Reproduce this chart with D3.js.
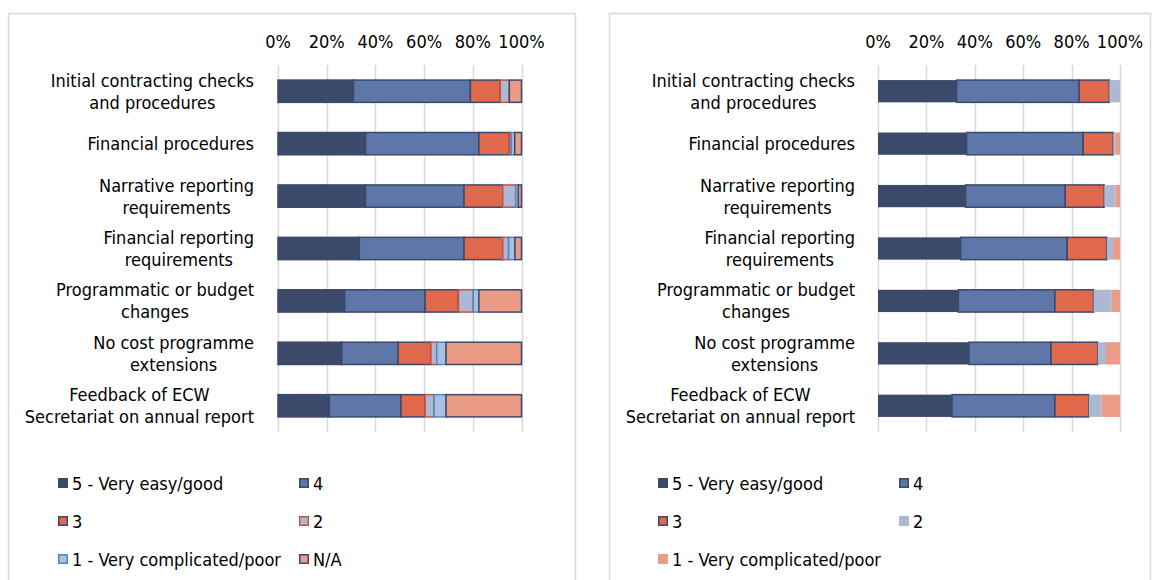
<!DOCTYPE html>
<html><head><meta charset="utf-8">
<script src="https://cdn.jsdelivr.net/npm/d3@7"></script>
<style>
body{margin:0;background:#fff}
text{font-family:"DejaVu Sans Condensed","DejaVu Sans",sans-serif;font-size:18px;fill:#000}
</style>
</head><body>
<svg id="chart" width="1158" height="580"></svg>
<script>
// categories, two lines each as in the original labels
var categories = [
  ["Initial contracting checks", "and procedures"],
  ["Financial procedures"],
  ["Narrative reporting", "requirements"],
  ["Financial reporting", "requirements"],
  ["Programmatic or budget", "changes"],
  ["No cost programme", "extensions"],
  ["Feedback of ECW", "Secretariat on annual report"]
];
var tickLabels = ["0%", "20%", "40%", "60%", "80%", "100%"];

// left chart (six answers incl. N/A), % of respondents
var leftSeries = ["5 - Very easy/good", "4", "3", "2", "1 - Very complicated/poor", "N/A"];
var left5  = [31.0, 36.0, 36.0, 33.4, 27.4, 26.2, 21.1];
var left4  = [48.0, 46.5, 40.4, 43.0, 33.0, 23.1, 29.4];
var left3  = [12.3, 12.5, 15.9, 15.9, 13.7, 13.5,  9.9];
var left2  = [ 3.7,  0.8,  5.3,  2.4,  6.1,  2.4,  3.7];
var left1  = [ 0.0,  1.4,  1.1,  2.6,  2.3,  3.8,  4.9];
var leftNA = [ 5.0,  2.8,  1.3,  2.7, 17.5, 31.0, 31.0];

// right chart (five answers)
var rightSeries = ["5 - Very easy/good", "4", "3", "2", "1 - Very complicated/poor"];
var right5 = [32.5, 36.6, 36.2, 34.2, 33.2, 37.6, 30.6];
var right4 = [50.6, 48.2, 41.2, 44.0, 39.9, 33.9, 42.5];
var right3 = [12.5, 12.4, 16.1, 16.4, 16.0, 19.3, 14.0];
var right2 = [ 4.4,  1.0,  4.7,  2.5,  7.5,  3.4,  5.3];
var right1 = [ 0.0,  1.8,  1.8,  2.9,  3.4,  5.8,  7.6];

var NAVY = "#3b4a6b";
var leftFill   = [NAVY, "#5e76a8", "#e0694b", "#adb9d3", "#a9c0df", "#e99b86"];
var leftStroke = [NAVY, NAVY, NAVY, "#c9504a", "#4f86c6", NAVY];
var rightFill   = [NAVY, "#5e76a8", "#e0694b", "#adb9d3", "#eb9c88"];
var rightStroke = ["none", NAVY, NAVY, "none", "none"];

var svg = d3.select("#chart");

function drawChart(opt) {
  var g = svg.append("g");
  // outer frame
  g.append("rect")
    .attr("x", opt.box[0] + 0.5).attr("y", opt.box[1] + 0.5)
    .attr("width", opt.box[2] - opt.box[0]).attr("height", opt.box[3] - opt.box[1])
    .attr("fill", "#fff").attr("stroke", "#d9d9d9").attr("stroke-width", 1.5);

  var x = d3.scaleLinear().domain([0, 1]).range([opt.x0, opt.x1]);
  var y = d3.scaleBand().domain(d3.range(categories.length))
    .range([opt.y0, opt.y1]).paddingInner(0.575).paddingOuter(0.2875);

  // gridlines
  g.append("g").selectAll("line").data(d3.range(0, 1.0001, 0.2)).join("line")
    .attr("x1", function(d) { return Math.round(x(d)) + 0.5; })
    .attr("x2", function(d) { return Math.round(x(d)) + 0.5; })
    .attr("y1", opt.y0).attr("y2", opt.y1)
    .attr("stroke", "#d9d9d9").attr("stroke-width", 1.5);

  // top axis labels
  g.append("g").selectAll("text").data(tickLabels).join("text")
    .attr("x", function(d, i) { return x(i * 0.2); })
    .attr("y", opt.tickY)
    .attr("text-anchor", "middle").attr("dominant-baseline", "central")
    .text(function(d) { return d; });

  // stacked, normalised to 100%
  var rows = categories.map(function(c, i) {
    var r = {};
    opt.series.forEach(function(s, k) { r[k] = opt.values[k][i]; });
    return r;
  });
  var stack = d3.stack().keys(d3.range(opt.series.length)).offset(d3.stackOffsetExpand);
  var layers = stack(rows);

  g.append("g").selectAll("g").data(layers).join("g")
    .attr("fill", function(d, k) { return opt.fill[k]; })
    .attr("stroke", function(d, k) { return opt.stroke[k]; })
    .attr("stroke-width", 1.5)
    .selectAll("rect").data(function(d) { return d.map(function(p, i) { return [p[0], p[1], i]; }); })
    .join("rect")
    .filter(function(d) { return d[1] - d[0] > 0; })
    .attr("x", function(d) { return x(d[0]); })
    .attr("width", function(d) { return x(d[1]) - x(d[0]); })
    .attr("y", function(d) { return y(d[2]); })
    .attr("height", y.bandwidth());

  // category labels: block right aligned, lines centred
  categories.forEach(function(lines, i) {
    var cy = y(i) + y.bandwidth() / 2;
    var lg = g.append("g");
    var ts = lines.map(function(l, j) {
      return lg.append("text")
        .attr("y", cy + (j - (lines.length - 1) / 2) * 22)
        .attr("text-anchor", "middle").attr("dominant-baseline", "central")
        .text(l);
    });
    var maxW = d3.max(ts, function(t) { return t.node().getComputedTextLength(); });
    ts.forEach(function(t) { t.attr("x", opt.labelRight - maxW / 2); });
  });

  // legend
  var lg = g.append("g");
  opt.series.forEach(function(s, k) {
    var lx = opt.box[0] + (k % 2 === 0 ? opt.legCols[0] : opt.legCols[1]);
    var ly = opt.legRows[Math.floor(k / 2)];
    var sw = opt.stroke[k] === "none" || opt.stroke[k] === opt.fill[k] ? 0 : 1.5;
    lg.append("rect")
      .attr("x", lx + sw / 2).attr("y", ly - 5 + sw / 2)
      .attr("width", 10 - sw).attr("height", 10 - sw)
      .attr("fill", opt.fill[k])
      .attr("stroke", sw ? opt.stroke[k] : "none").attr("stroke-width", sw);
    lg.append("text")
      .attr("x", lx + 14).attr("y", ly)
      .attr("dominant-baseline", "central")
      .text(s);
  });
}

drawChart({
  box: [8, 13, 575, 600],
  x0: 278, x1: 521.5, y0: 65, y1: 432,
  tickY: 41, labelRight: 254,
  series: leftSeries,
  values: [left5, left4, left3, left2, left1, leftNA],
  fill: leftFill, stroke: leftStroke,
  legCols: [50, 291], legRows: [483, 521, 559]
});

drawChart({
  box: [609, 13, 1150, 600],
  x0: 878, x1: 1120, y0: 65, y1: 432,
  tickY: 41, labelRight: 855,
  series: rightSeries,
  values: [right5, right4, right3, right2, right1],
  fill: rightFill, stroke: rightStroke,
  legCols: [49, 290], legRows: [483, 521, 559]
});
</script>
</body></html>
